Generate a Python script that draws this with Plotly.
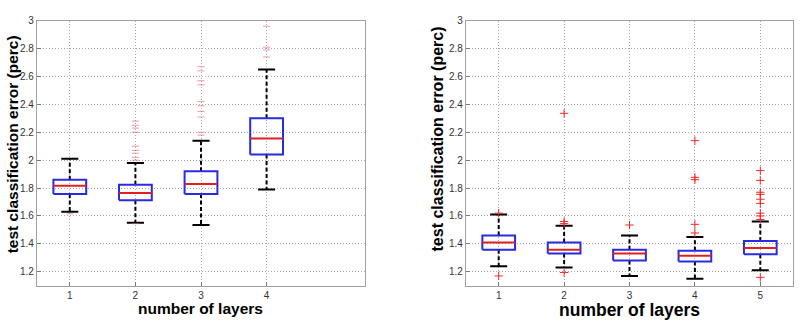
import plotly.graph_objects as go

# ---------------- data ----------------
left_layers = [1, 2, 3, 4]
left_q1 = [1.758, 1.713, 1.758, 2.04]
left_median = [1.816, 1.765, 1.83, 2.155]
left_q3 = [1.86, 1.823, 1.92, 2.30]
left_lower = [1.63, 1.551, 1.535, 1.79]
left_upper = [2.01, 1.98, 2.14, 2.65]
left_outliers = [
    [1.615],
    [1.545, 2.00, 2.02, 2.05, 2.07, 2.10, 2.20, 2.23, 2.25, 2.28],
    [2.18, 2.20, 2.31, 2.35, 2.39, 2.42, 2.54, 2.57, 2.64, 2.67],
    [2.74, 2.79, 2.81, 2.96],
]

right_layers = [1, 2, 3, 4, 5]
right_q1 = [1.357, 1.33, 1.28, 1.273, 1.325]
right_median = [1.41, 1.357, 1.33, 1.315, 1.37]
right_q3 = [1.459, 1.41, 1.357, 1.35, 1.42]
right_lower = [1.24, 1.23, 1.17, 1.15, 1.21]
right_upper = [1.61, 1.53, 1.46, 1.45, 1.56]
right_outliers = [
    [1.17, 1.62],
    [1.195, 1.545, 1.56, 2.336],
    [1.535],
    [1.478, 1.54, 1.86, 1.877, 2.14],
    [1.16, 1.575, 1.60, 1.62, 1.69, 1.72, 1.755, 1.77, 1.855, 1.925],
]

y_ticks = [1.2, 1.4, 1.6, 1.8, 2, 2.2, 2.4, 2.6, 2.8, 3]
y_tick_text = ["1.2", "1.4", "1.6", "1.8", "2", "2.2", "2.4", "2.6", "2.8", "3"]
x_title = "number of layers"
y_title = "test classification error (perc)"

BOX_HALF = 0.25
CAP_HALF = 0.13

fig = go.Figure()


def add_boxes(xa, ya, layers, q1, med, q3, lo, hi, outs, out_symbol, out_color, out_size, out_w):
    bx, by, mx, my, wx, wy, cx, cy, ox, oy = [], [], [], [], [], [], [], [], [], []
    for i, p in enumerate(layers):
        bx += [p - BOX_HALF, p + BOX_HALF, p + BOX_HALF, p - BOX_HALF, p - BOX_HALF, None]
        by += [q1[i], q1[i], q3[i], q3[i], q1[i], None]
        mx += [p - BOX_HALF, p + BOX_HALF, None]
        my += [med[i], med[i], None]
        wx += [p, p, None, p, p, None]
        wy += [q3[i], hi[i], None, q1[i], lo[i], None]
        cx += [p - CAP_HALF, p + CAP_HALF, None, p - CAP_HALF, p + CAP_HALF, None]
        cy += [hi[i], hi[i], None, lo[i], lo[i], None]
        for v in outs[i]:
            ox.append(p)
            oy.append(v)
    common = dict(xaxis=xa, yaxis=ya, showlegend=False, hoverinfo="skip")
    fig.add_trace(go.Scatter(x=wx, y=wy, mode="lines",
                             line=dict(color="black", width=2, dash="4px,2.5px"), **common))
    fig.add_trace(go.Scatter(x=cx, y=cy, mode="lines",
                             line=dict(color="black", width=2), **common))
    fig.add_trace(go.Scatter(x=bx, y=by, mode="lines",
                             line=dict(color="#2a2ae0", width=2), **common))
    fig.add_trace(go.Scatter(x=mx, y=my, mode="lines",
                             line=dict(color="#e02020", width=2), **common))
    fig.add_trace(go.Scatter(x=ox, y=oy, mode="markers",
                             marker=dict(symbol=out_symbol, size=out_size,
                                         line=dict(color=out_color, width=out_w),
                                         color=out_color), **common))


add_boxes("x", "y", left_layers, left_q1, left_median, left_q3,
          left_lower, left_upper, left_outliers, "line-ew", "rgba(225,90,100,0.6)", 5, 1)
add_boxes("x2", "y2", right_layers, right_q1, right_median, right_q3,
          right_lower, right_upper, right_outliers, "cross-thin", "#ee2a2a", 6, 1)

W, H = 802, 322
ydom = [1 - 285 / H, 1 - 15 / H]
axis_common = dict(
    showline=True, mirror=True, linecolor="#a0a0a0", linewidth=1.2,
    showgrid=True, gridcolor="#a8a8a8", griddash="1px,2px", gridwidth=1,
    zeroline=False, ticks="inside", ticklen=4, tickcolor="#777",
    tickfont=dict(family="Liberation Sans, Arial, sans-serif", size=10, color="#333"),
)

fig.update_layout(
    width=W, height=H,
    margin=dict(l=0, r=0, t=0, b=0),
    paper_bgcolor="white", plot_bgcolor="white",
    xaxis=dict(domain=[37 / W, 365 / W], range=[0.5, 5.5],
               tickvals=left_layers, ticktext=[str(v) for v in left_layers],
               anchor="y", **axis_common),
    yaxis=dict(domain=ydom, range=[1.1, 3], tickvals=y_ticks, ticktext=y_tick_text,
               anchor="x", **axis_common),
    xaxis2=dict(domain=[466 / W, 793 / W], range=[0.5, 5.5],
                tickvals=right_layers, ticktext=[str(v) for v in right_layers],
                anchor="y2", **axis_common),
    yaxis2=dict(domain=ydom, range=[1.1, 3], tickvals=y_ticks, ticktext=y_tick_text,
                anchor="x2", **axis_common),
)

title_font = "Liberation Sans, Arial, sans-serif"
fig.add_annotation(text="<b>" + x_title + "</b>", xref="paper", yref="paper",
                   x=200 / W, y=1 - 308 / H, showarrow=False,
                   font=dict(family=title_font, size=15.5, color="black"),
                   xanchor="center", yanchor="middle")
fig.add_annotation(text="<b>" + x_title + "</b>", xref="paper", yref="paper",
                   x=629 / W, y=1 - 310 / H, showarrow=False,
                   font=dict(family=title_font, size=17.5, color="black"),
                   xanchor="center", yanchor="middle")
fig.add_annotation(text="<b>" + y_title + "</b>", xref="paper", yref="paper",
                   x=12 / W, y=1 - 141 / H, showarrow=False, textangle=-90,
                   font=dict(family=title_font, size=15.5, color="black"),
                   xanchor="center", yanchor="middle")
fig.add_annotation(text="<b>" + y_title + "</b>", xref="paper", yref="paper",
                   x=437 / W, y=1 - 136 / H, showarrow=False, textangle=-90,
                   font=dict(family=title_font, size=16, color="black"),
                   xanchor="center", yanchor="middle")

fig.write_html("out.html")
